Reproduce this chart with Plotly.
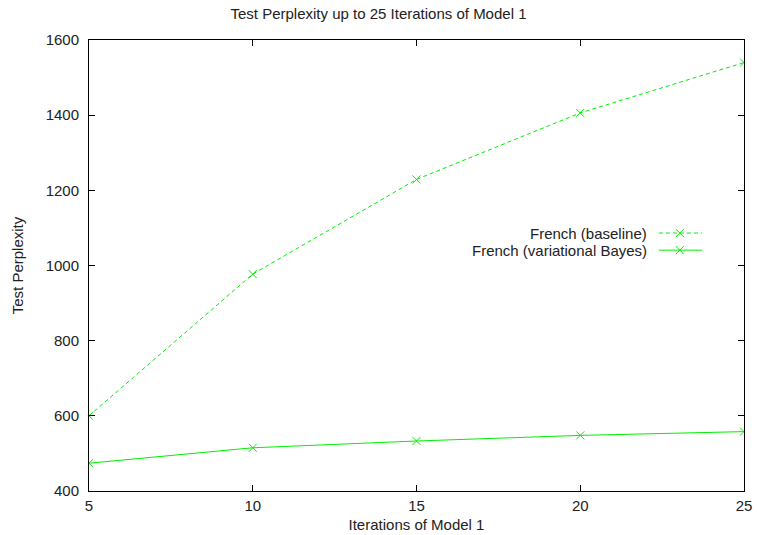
import plotly.graph_objects as go

iterations = [5, 10, 15, 20, 25]
baseline = [600, 977, 1229, 1406, 1540]
vb = [474, 515, 533, 548, 558]

title = "Test Perplexity up to 25 Iterations of Model 1"
xlabel = "Iterations of Model 1"
ylabel = "Test Perplexity"
names = ["French (baseline)", "French (variational Bayes)"]
green = "#00ee00"
font = "Liberation Sans, Arial, Helvetica, sans-serif"
fs = 15
tc = "#222222"

fig = go.Figure()
mk = dict(symbol="x-thin", size=8, color=green, line=dict(color=green, width=1))
fig.add_trace(go.Scatter(x=iterations, y=baseline, mode="lines+markers",
                         line=dict(color=green, width=1, dash="4px,3px"),
                         marker=mk, showlegend=False))
fig.add_trace(go.Scatter(x=iterations, y=vb, mode="lines+markers",
                         line=dict(color=green, width=1),
                         marker=mk, showlegend=False))

# custom gnuplot-style legend (key) on overlay axes in paper-like coordinates
key_x = [0.870, 0.936]
key_mid = [0.902]
key_y = [0.572, 0.534]
dashes = ["4px,3px", "solid"]
for i, nm in enumerate(names):
    fig.add_trace(go.Scatter(x=key_x, y=[key_y[i]] * 2, mode="lines", xaxis="x2", yaxis="y2",
                             line=dict(color=green, width=1, dash=dashes[i]), showlegend=False,
                             hoverinfo="skip"))
    fig.add_trace(go.Scatter(x=key_mid, y=[key_y[i]], mode="markers", xaxis="x2", yaxis="y2",
                             marker=mk, showlegend=False, hoverinfo="skip"))
    fig.add_annotation(text=nm, xref="x2", yref="y2", x=0.855, y=key_y[i], xanchor="right",
                       yanchor="middle", showarrow=False, font=dict(size=fs, color=tc, family=font))

axis_common = dict(showline=True, linecolor="black", linewidth=1, mirror="ticks", ticks="inside",
                   ticklen=6, tickcolor="black", showgrid=False, zeroline=False, automargin=False,
                   tickfont=dict(size=fs, color=tc, family=font))
fig.update_layout(
    width=757, height=535,
    margin=dict(l=89, r=13, t=40, b=44),
    paper_bgcolor="white", plot_bgcolor="white",
    title=dict(text=title, x=0.5, xanchor="center", y=0.974, yanchor="middle",
               font=dict(size=fs, color=tc, family=font)),
    xaxis=dict(range=[5, 25], tickvals=[5, 10, 15, 20, 25], ticklabelstandoff=1,
               title=dict(text=xlabel, standoff=6, font=dict(size=fs, color=tc, family=font)),
               **axis_common),
    yaxis=dict(range=[400, 1600], tickvals=[400, 600, 800, 1000, 1200, 1400, 1600],
               ticklabelstandoff=6,
               title=dict(text=ylabel, standoff=18, font=dict(size=fs, color=tc, family=font)),
               **axis_common),
    xaxis2=dict(overlaying="x", range=[0, 1], visible=False),
    yaxis2=dict(overlaying="y", range=[0, 1], visible=False),
    showlegend=False,
)
fig.write_html("out.html")
